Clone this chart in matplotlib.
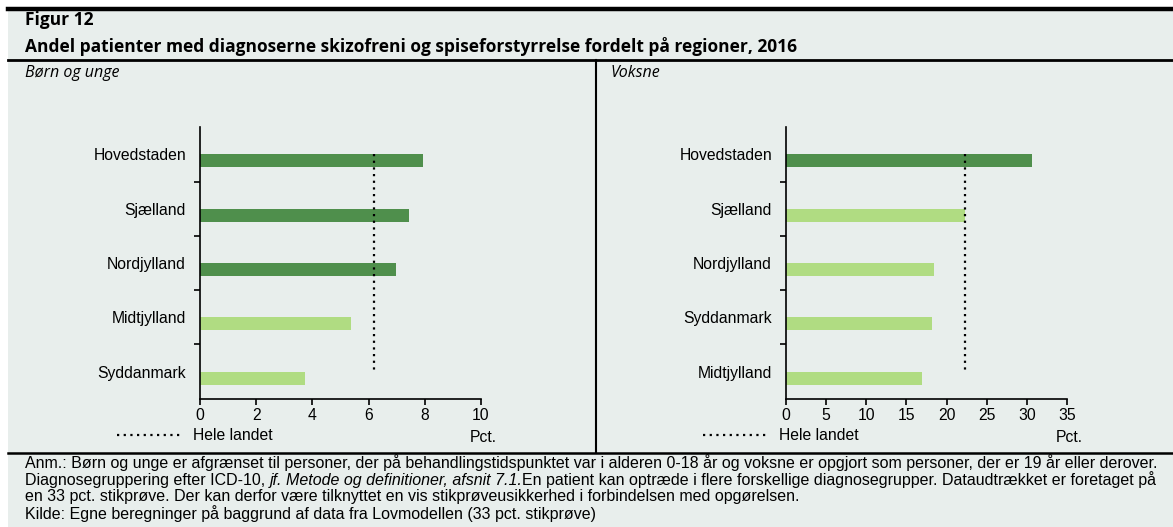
import matplotlib.pyplot as plt
from matplotlib.lines import Line2D

# Data
regions_kids = ["Hovedstaden", "Sjælland", "Nordjylland", "Midtjylland", "Syddanmark"]
values_kids = [7.95, 7.43, 6.98, 5.37, 3.74]
avg_kids = 6.2

regions_adults = ["Hovedstaden", "Sjælland", "Nordjylland", "Syddanmark", "Midtjylland"]
values_adults = [30.65, 22.25, 18.4, 18.24, 16.9]
avg_adults = 22.3

ticks_kids = [0, 2, 4, 6, 8, 10]
ticks_adults = [0, 5, 10, 15, 20, 25, 30, 35]

dark = "#4f8f4c"
light = "#b0dc82"
bg = "#e8eeec"

W, H = 1173, 527
fig = plt.figure(figsize=(W / 100, H / 100), dpi=100)
fig.patch.set_facecolor("white")


def fx(px):
    return px / W


def fy(py):
    return 1 - py / H


# background box and frame lines
fig.patches.append(plt.Rectangle((fx(8), 0), 1 - fx(8), fy(7), transform=fig.transFigure,
                                 facecolor=bg, edgecolor="none", zorder=-10))
fig.add_artist(Line2D([fx(8), 1], [fy(9), fy(9)], color="black", lw=3.2))
fig.add_artist(Line2D([fx(8), 1], [fy(59.5), fy(59.5)], color="black", lw=2))
fig.add_artist(Line2D([fx(8), 1], [fy(452.5), fy(452.5)], color="black", lw=1.8))
fig.add_artist(Line2D([fx(595.5), fx(595.5)], [fy(60), fy(452)], color="black", lw=1.5))

title_font = ["Open Sans", "DejaVu Sans"]
fig.text(fx(25), fy(20), "Figur 12", fontsize=12.5, fontweight="bold", family=title_font,
         va="center", ha="left")
fig.text(fx(25), fy(46), "Andel patienter med diagnoserne skizofreni og spiseforstyrrelse fordelt på regioner, 2016",
         fontsize=12.5, fontweight="bold", family=title_font, va="center", ha="left")
fig.text(fx(25), fy(73), "Børn og unge", fontsize=11.5, style="italic", family=title_font,
         va="center", ha="left")
fig.text(fx(611), fy(73), "Voksne", fontsize=11.5, style="italic", family=title_font,
         va="center", ha="left")

afs = 11.3  # axis text size


def panel(left_px, regions, values, avg, ticks, legend_x):
    ax = fig.add_axes([fx(left_px), fy(398.7), fx(281), (398.7 - 127.3) / H])
    ax.set_facecolor("none")
    ypos = list(range(len(regions)))
    colors = [dark if v > avg else light for v in values]
    ax.barh([y + 0.12 for y in ypos], values, height=0.24, color=colors, zorder=2)
    ax.plot([avg, avg], [ypos[0], ypos[-1]], color="black", lw=1.6,
            linestyle=(0, (1, 2)), zorder=3)
    ax.set_ylim(len(regions) - 0.5, -0.5)
    ax.set_xlim(ticks[0], ticks[-1])
    ax.set_yticks(ypos)
    ax.set_yticklabels(regions, fontsize=afs, family="Liberation Sans")
    ax.tick_params(axis="y", length=0, pad=10)
    ax.set_yticks([y + 0.5 for y in ypos[:-1]], minor=True)
    ax.tick_params(axis="y", which="minor", length=4, width=1.2)
    ax.set_xticks(ticks)
    ax.set_xticklabels([str(t) for t in ticks], fontsize=afs, family="Liberation Sans")
    ax.tick_params(axis="x", length=4, width=1.2, pad=3)
    for s in ["top", "right"]:
        ax.spines[s].set_visible(False)
    for s in ["left", "bottom"]:
        ax.spines[s].set_linewidth(1.2)
    # legend and unit
    fig.add_artist(Line2D([fx(legend_x), fx(legend_x + 63)], [fy(435), fy(435)], color="black",
                          lw=1.6, linestyle=(0, (1, 2))))
    fig.text(fx(legend_x + 76), fy(435), "Hele landet", fontsize=afs, family="Liberation Sans",
             va="center", ha="left")
    fig.text(fx(left_px + 270), fy(438), "Pct.", fontsize=afs, family="Liberation Sans",
             va="center", ha="left")
    return ax


panel(200, regions_kids, values_kids, avg_kids, ticks_kids, 117)
panel(786, regions_adults, values_adults, avg_adults, ticks_adults, 703)

# footnote
note_font = "Liberation Sans"
fs = 11.5
renderer = fig.canvas.get_renderer()


def seq_text(x_px, y_px, parts):
    x = fx(x_px)
    for txt, style in parts:
        t = fig.text(x, fy(y_px), txt, fontsize=fs, family=note_font, style=style,
                     va="center", ha="left")
        bb = t.get_window_extent(renderer=renderer)
        x += bb.width / W


seq_text(25, 463, [("Anm.: Børn og unge er afgrænset til personer, der på behandlingstidspunktet var i alderen 0-18 år og voksne er opgjort som personer, der er 19 år eller derover.", "normal")])
seq_text(25, 480, [("Diagnosegruppering efter ICD-10, ", "normal"),
                   ("jf. Metode og definitioner, afsnit 7.1.", "italic"),
                   ("En patient kan optræde i flere forskellige diagnosegrupper. Dataudtrækket er foretaget på", "normal")])
seq_text(25, 497, [("en 33 pct. stikprøve. Der kan derfor være tilknyttet en vis stikprøveusikkerhed i forbindelsen med opgørelsen.", "normal")])
seq_text(25, 514, [("Kilde: Egne beregninger på baggrund af data fra Lovmodellen (33 pct. stikprøve)", "normal")])

fig.savefig("out.png", dpi=100, facecolor=fig.get_facecolor())
